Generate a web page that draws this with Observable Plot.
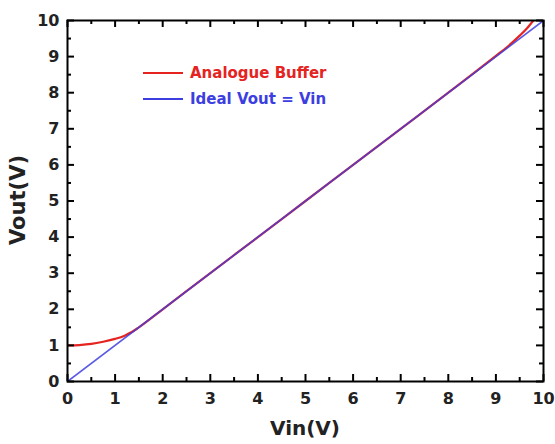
<!DOCTYPE html>
<html>
<head>
<meta charset="utf-8">
<script src="https://cdn.jsdelivr.net/npm/d3@7"></script>
<script src="https://cdn.jsdelivr.net/npm/@observablehq/plot@0.6"></script>
<style>
  html, body { margin: 0; padding: 0; background: #fff; }
  #wrap { position: relative; width: 555px; height: 444px; font-family: "DejaVu Sans", sans-serif; font-weight: bold; color: #222; }
  #legend { position: absolute; left: 143px; top: 60px; font-size: 15px; }
  .row { display: flex; align-items: center; height: 26px; }
  .sw { width: 40px; margin-right: 7px; }
  #xt { position: absolute; left: 205px; width: 200px; top: 416px; text-align: center; font-size: 20px; line-height: 24px; }
  #yt { position: absolute; left: 18px; top: 200px; font-size: 21px; line-height: 24px; white-space: nowrap; transform: translate(-50%, -50%) rotate(-90deg); }
</style>
</head>
<body>
<div id="wrap"><div id="legend"></div><div id="xt"></div><div id="yt"></div></div>
<script>
// Input voltage samples (V)
const vinBuffer = [0, 0.25, 0.5, 0.75, 1.0, 1.2, 1.35, 1.5, 2, 3, 4, 5, 6, 7, 8, 9, 9.25, 9.5, 9.65, 9.8];
// Analogue buffer output (V)
const voutBuffer = [1.0, 1.01, 1.04, 1.1, 1.18, 1.27, 1.37, 1.5, 2.0, 3.0, 4.0, 5.0, 6.0, 7.0, 8.0, 9.02, 9.28, 9.58, 9.78, 10.02];
// Ideal Vout = Vin
const vinIdeal = [0, 10];
const voutIdeal = [0, 10];

const seriesNames = ["Analogue Buffer", "Ideal Vout = Vin"];
const seriesColors = ["#e5231f", "#3d3ee0"];
const majorTicks = [0, 1, 2, 3, 4, 5, 6, 7, 8, 9, 10];
const minorTicks = [0.5, 1.5, 2.5, 3.5, 4.5, 5.5, 6.5, 7.5, 8.5, 9.5];
const xTitle = "Vin(V)";
const yTitle = "Vout(V)";

const buffer = vinBuffer.map((v, i) => ({vin: v, vout: voutBuffer[i]}));
const ideal = vinIdeal.map((v, i) => ({vin: v, vout: voutIdeal[i]}));

const W = 555, H = 444, ML = 67, MR = 12, MT = 20, MB = 63;
const FW = W - ML - MR, FH = H - MT - MB;

// inward ticks on all four sides, as rules inset to a short length
function ticksAll(values, len) {
  const o = {stroke: "#000", strokeWidth: 2};
  return [
    Plot.ruleX(values, {x: d => d, insetTop: FH - len, ...o}),
    Plot.ruleX(values, {x: d => d, insetBottom: FH - len, ...o}),
    Plot.ruleY(values, {y: d => d, insetRight: FW - len, ...o}),
    Plot.ruleY(values, {y: d => d, insetLeft: FW - len, ...o})
  ];
}

const chart = Plot.plot({
  width: W,
  height: H,
  marginLeft: ML,
  marginRight: MR,
  marginTop: MT,
  marginBottom: MB,
  style: {fontFamily: "DejaVu Sans, sans-serif", fontSize: "16px", fontWeight: "bold", color: "#222", background: "#fff"},
  x: {domain: [0, 10], ticks: majorTicks, tickSize: 0, tickPadding: 11, label: null, tickFormat: d => String(d)},
  y: {domain: [0, 10], ticks: majorTicks, tickSize: 0, tickPadding: 8, label: null, tickFormat: d => String(d)},
  marks: [
    Plot.line(buffer, {x: "vin", y: "vout", stroke: seriesColors[0], strokeWidth: 2.2, curve: "monotone-x", clip: true}),
    Plot.line(ideal, {x: "vin", y: "vout", stroke: seriesColors[1], strokeWidth: 1.6, strokeOpacity: 0.85, clip: true}),
    ...ticksAll(majorTicks, 7),
    ...ticksAll(minorTicks, 4),
    Plot.frame({stroke: "#000", strokeWidth: 2})
  ]
});
document.getElementById("wrap").prepend(chart);

document.getElementById("xt").textContent = xTitle;
document.getElementById("yt").textContent = yTitle;

const legend = document.getElementById("legend");
seriesNames.forEach((name, i) => {
  const row = document.createElement("div");
  row.className = "row";
  row.style.color = seriesColors[i];
  const sw = document.createElement("div");
  sw.className = "sw";
  sw.style.borderTop = `${i === 0 ? 2 : 2}px solid ${seriesColors[i]}`;
  const label = document.createElement("span");
  label.textContent = name;
  row.append(sw, label);
  legend.appendChild(row);
});
</script>
</body>
</html>
